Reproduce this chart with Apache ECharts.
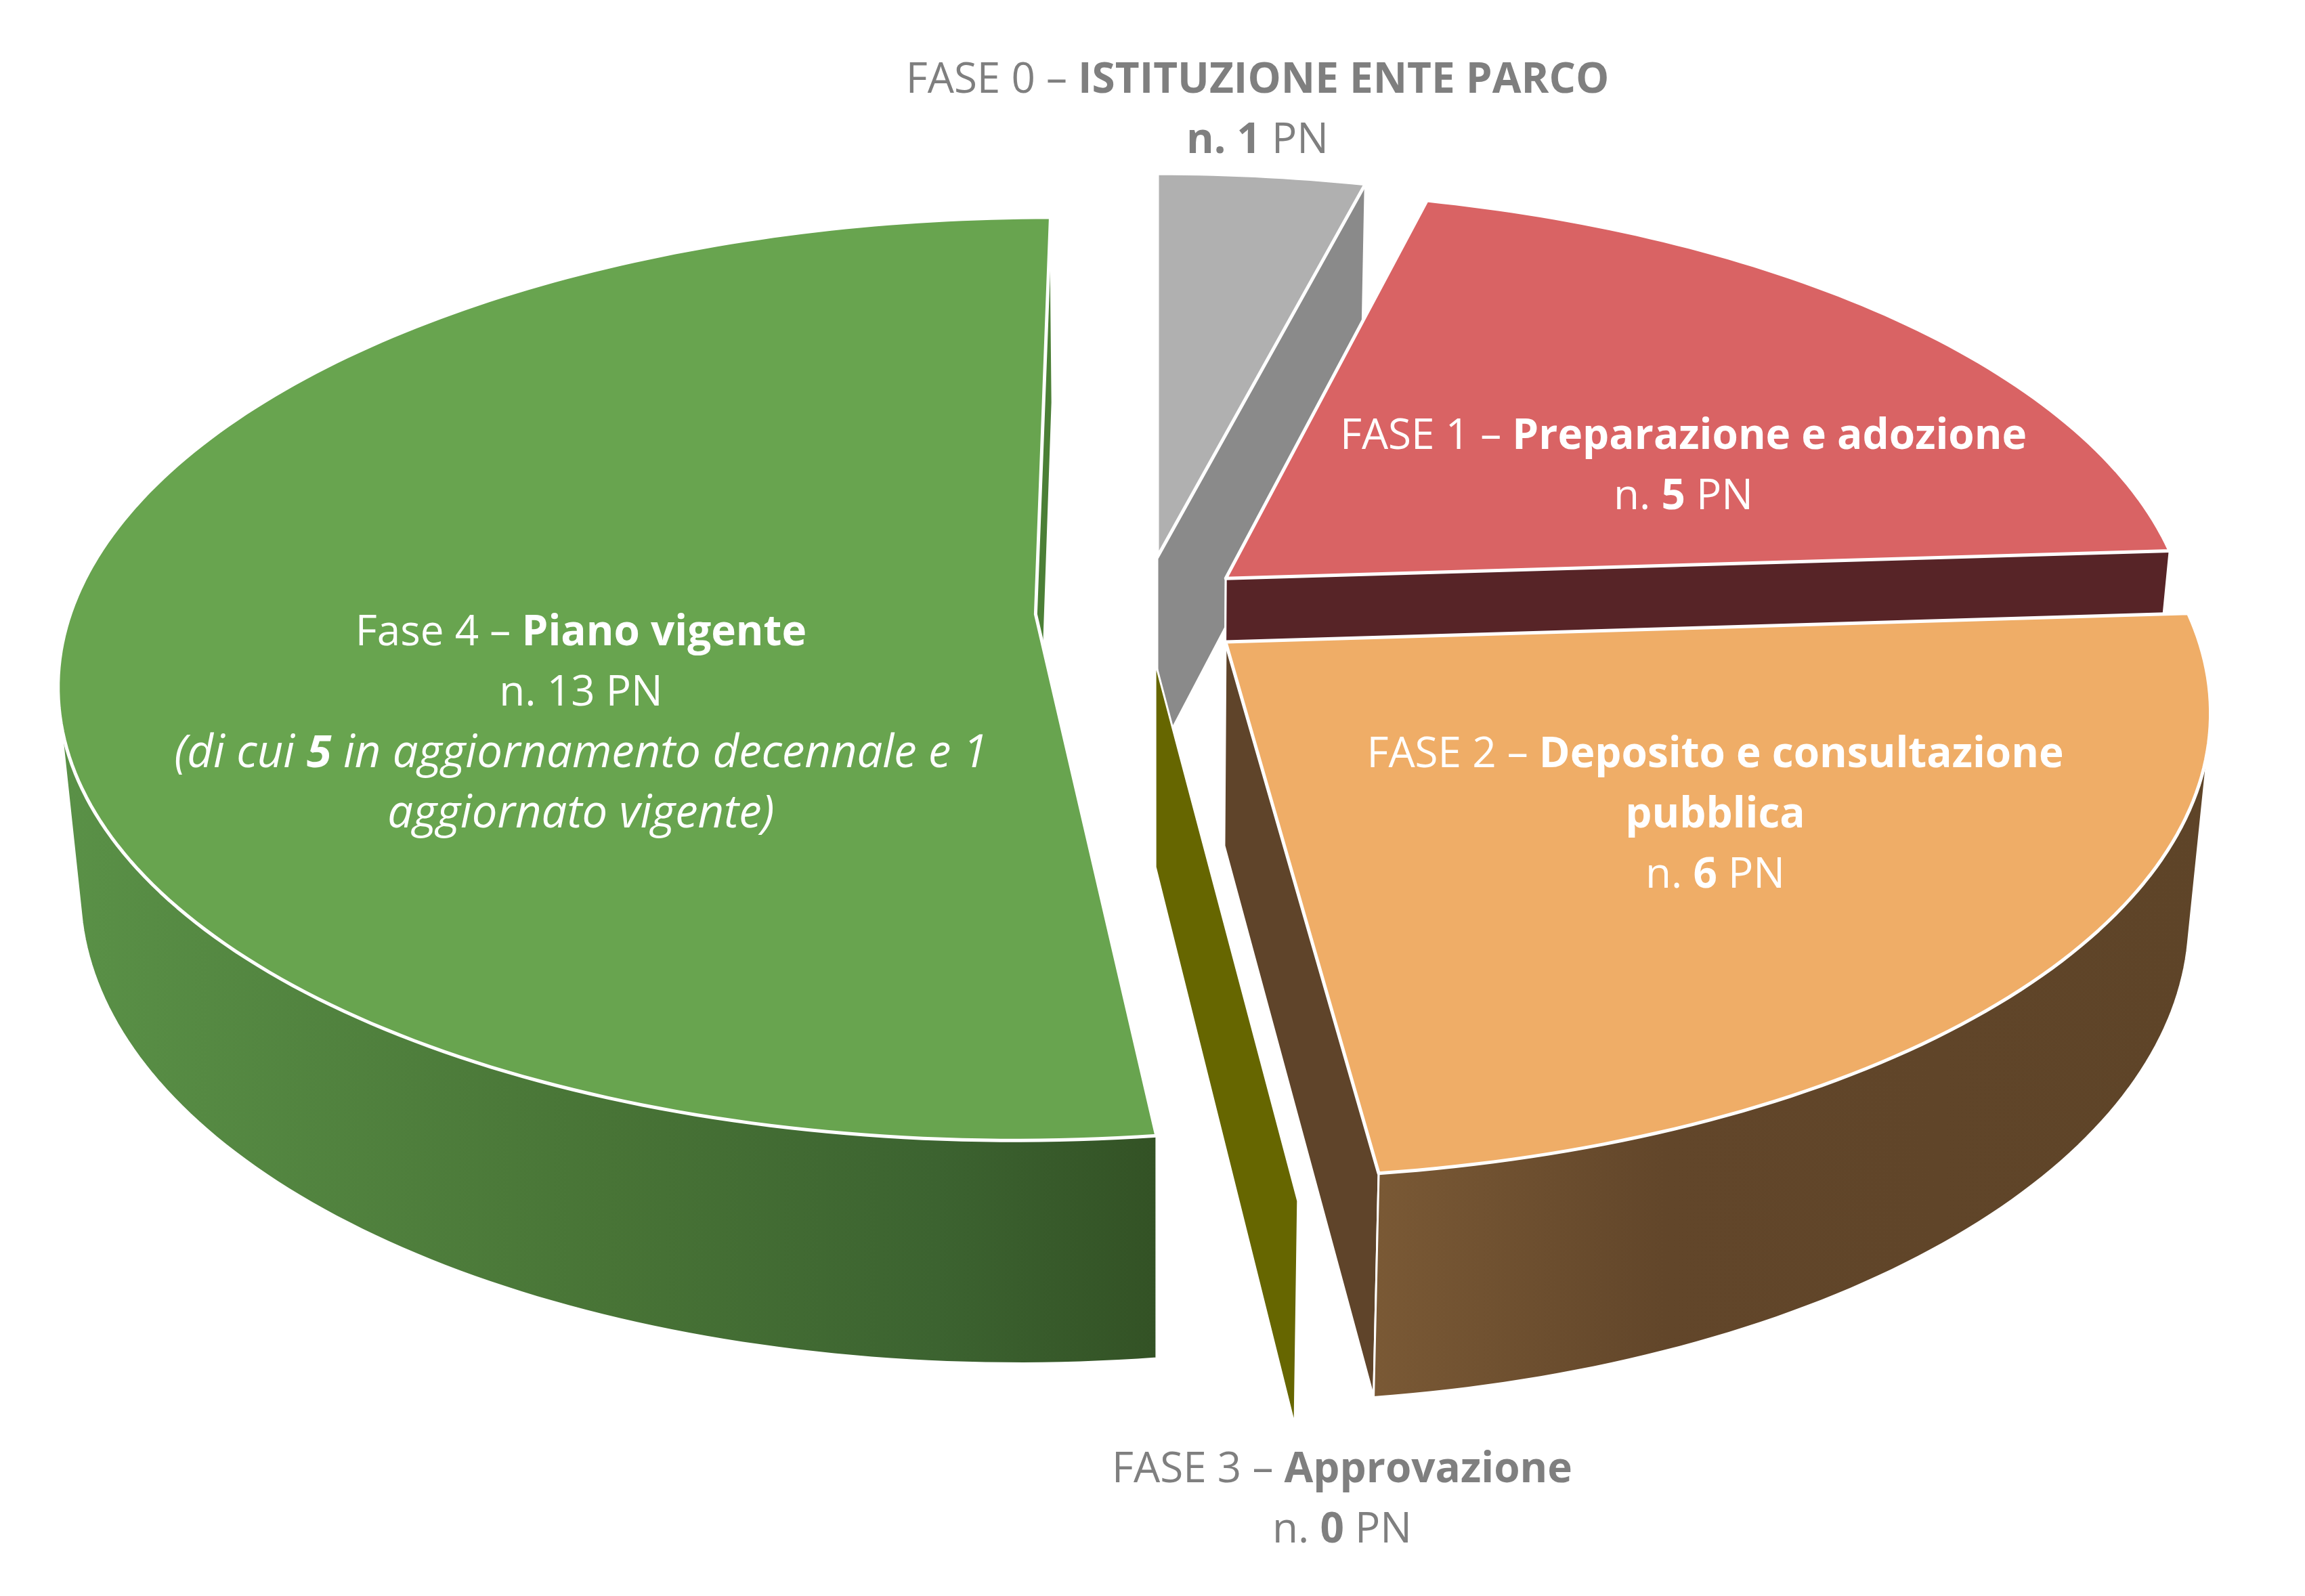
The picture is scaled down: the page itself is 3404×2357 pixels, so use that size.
<!DOCTYPE html>
<html>
<head>
<meta charset="utf-8">
<style>html,body{margin:0;padding:0;background:#fff}#c{width:3404px;height:2357px}</style>
<script src="https://cdn.jsdelivr.net/npm/echarts@6/dist/echarts.min.js"></script>
</head>
<body>
<div id="c"></div>
<script>
// ---- data ----
const categories = ['FASE 0 – ISTITUZIONE ENTE PARCO','FASE 1 – Preparazione e adozione','FASE 2 – Deposito e consultazione pubblica','FASE 3 – Approvazione','Fase 4 – Piano vigente'];
const values = [1, 5, 6, 0, 13];
const labelTexts = [
  '{g|FASE 0 – }{gb|ISTITUZIONE ENTE PARCO}\n{gb|n. 1}{g| PN}',
  '{w|FASE 1 – }{wb|Preparazione e adozione}\n{w|n. }{wb|5}{w| PN}',
  '{w|FASE 2 – }{wb|Deposito e consultazione}\n{wb|pubblica}\n{w|n. }{wb|6}{w| PN}',
  '{g|FASE 3 – }{gb|Approvazione}\n{g|n. }{gb|0}{g| PN}',
  '{w|Fase 4 – }{wb|Piano vigente}\n{w|n. 13 PN}\n{wi|(di cui }{wbi|5}{wi| in aggiornamento decennale e 1}\n{wi|aggiornato vigente)}'
];
// ---- styles ----
const topColors = ['#B0B0B0','#D96364','#EFAD67','#666600','#68A44F'];
const radialColors = ['#8A8A8A','#572427','#5F442A','#666600','#4B7F36'];
const wallStops = [
  [[0,'#8A8A8A'],[1,'#8A8A8A']],
  [[0,'#572427'],[1,'#572427']],
  [[0,'#7A5935'],[0.35,'#62462A'],[1,'#5E4428']],
  [[0,'#666600'],[1,'#666600']],
  [[0,'#5A9147'],[0.5,'#487436'],[0.8,'#3C6330'],[1,'#335225']]
];
// explosion of every slice in the plane of the pie (fractions of the radius)
const explode = [[0,-0.125],[0.0718,-0.077],[0.0702,0.064],[-0.002,0.108],[-0.126,0.003]];
const labelAnchors = [[1857,164],[2486,690],[2533,1204],[1982,2216],[858,1069]];
// ---- perspective of the 3D pie ----
const P = {cx:1709, cy:905, A:1425, B:667.7, C:305, k:0.1402, m:0.02};
function project(u,v,h){
  const w = 1 - P.k*v + P.m*h;
  return [P.cx + P.A*u/w, P.cy + (P.B*v + P.C*h)/w];
}
const total = values.reduce((a,b)=>a+b,0);
function sliceAngles(i){
  let s = 0;
  for(let j=0;j<i;j++) s += values[j];
  return [s/total*Math.PI*2, (s+values[i])/total*Math.PI*2];
}
function rim(i,a,h){
  const e = explode[i];
  return project(e[0]+Math.sin(a), e[1]-Math.cos(a), h);
}
function area(q){
  let s=0;
  for(let i=0;i<q.length;i++){const p=q[i],n=q[(i+1)%q.length];s+=p[0]*n[1]-n[0]*p[1];}
  return s/2;
}
function renderSlice(params, api){
  const i = params.dataIndex;
  const val = api.value(0);
  const [a0,a1] = sliceAngles(i);
  const e = explode[i];
  const apexT = project(e[0],e[1],0), apexB = project(e[0],e[1],1);
  const children = [];
  const wallLine = {stroke:'#fff', lineWidth:3, lineJoin:'round'};
  const addRadial = (a)=>children.push({type:'polygon',shape:{points:[apexT,rim(i,a,0),rim(i,a,1),apexB]},
    style:Object.assign({fill:radialColors[i]},wallLine)});
  addRadial(a0);
  if(val>0){
    addRadial(a1);
    const n = Math.max(2,Math.ceil((a1-a0)/(Math.PI/180)));
    const top=[], bot=[];
    for(let t=0;t<=n;t++){const a=a0+(a1-a0)*t/n; top.push(rim(i,a,0)); bot.push(rim(i,a,1));}
    // outer wall: only the stretch that faces the viewer
    let from=-1,to=-1;
    for(let t=0;t<n;t++){
      if(area([top[t],top[t+1],bot[t+1],bot[t]])<0){ if(from<0) from=t; to=t+1; }
    }
    if(from>=0){
      const pts = top.slice(from,to+1).concat(bot.slice(from,to+1).reverse());
      children.push({type:'polygon',shape:{points:pts},
        style:Object.assign({fill:new echarts.graphic.LinearGradient(0,0,1,0,wallStops[i].map(s=>({offset:s[0],color:s[1]})))},wallLine)});
    }
    children.push({type:'polygon',shape:{points:[apexT].concat(top)},
      style:{fill:topColors[i],stroke:'#fff',lineWidth:5,lineJoin:'round'}});
  }
  return {type:'group',children};
}
const FONT='Open Sans', SIZE=62, LH=89;
const rs = (fill,fontWeight,fontStyle,size)=>({fill,fontWeight,fontStyle,fontSize:size||SIZE,fontFamily:FONT,lineHeight:LH});
const rich = {
  g:rs('#7F7F7F','normal','normal'), gb:rs('#7F7F7F','bold','normal'),
  w:rs('#FFFFFF','normal','normal'), wb:rs('#FFFFFF','bold','normal'),
  wi:rs('#FFFFFF','normal','italic',67), wbi:rs('#FFFFFF','bold','italic',67)
};
function renderLabel(params){
  const i=params.dataIndex;
  return {type:'text',style:{text:labelTexts[i],x:labelAnchors[i][0],y:labelAnchors[i][1],
    align:'center',verticalAlign:'middle',rich,fontFamily:FONT,fontSize:SIZE,lineHeight:LH}};
}
const chart = echarts.init(document.getElementById('c'),null,{renderer:'canvas'});
const seriesData = values.map((v,i)=>({name:categories[i],value:[v]}));
chart.setOption({
  animation:false,
  backgroundColor:'#fff',
  series:[
    {type:'custom',coordinateSystem:'none',silent:true,z:2,data:seriesData,renderItem:renderSlice},
    {type:'custom',coordinateSystem:'none',silent:true,z:3,data:seriesData,renderItem:renderLabel}
  ]
});
</script>
</body>
</html>
